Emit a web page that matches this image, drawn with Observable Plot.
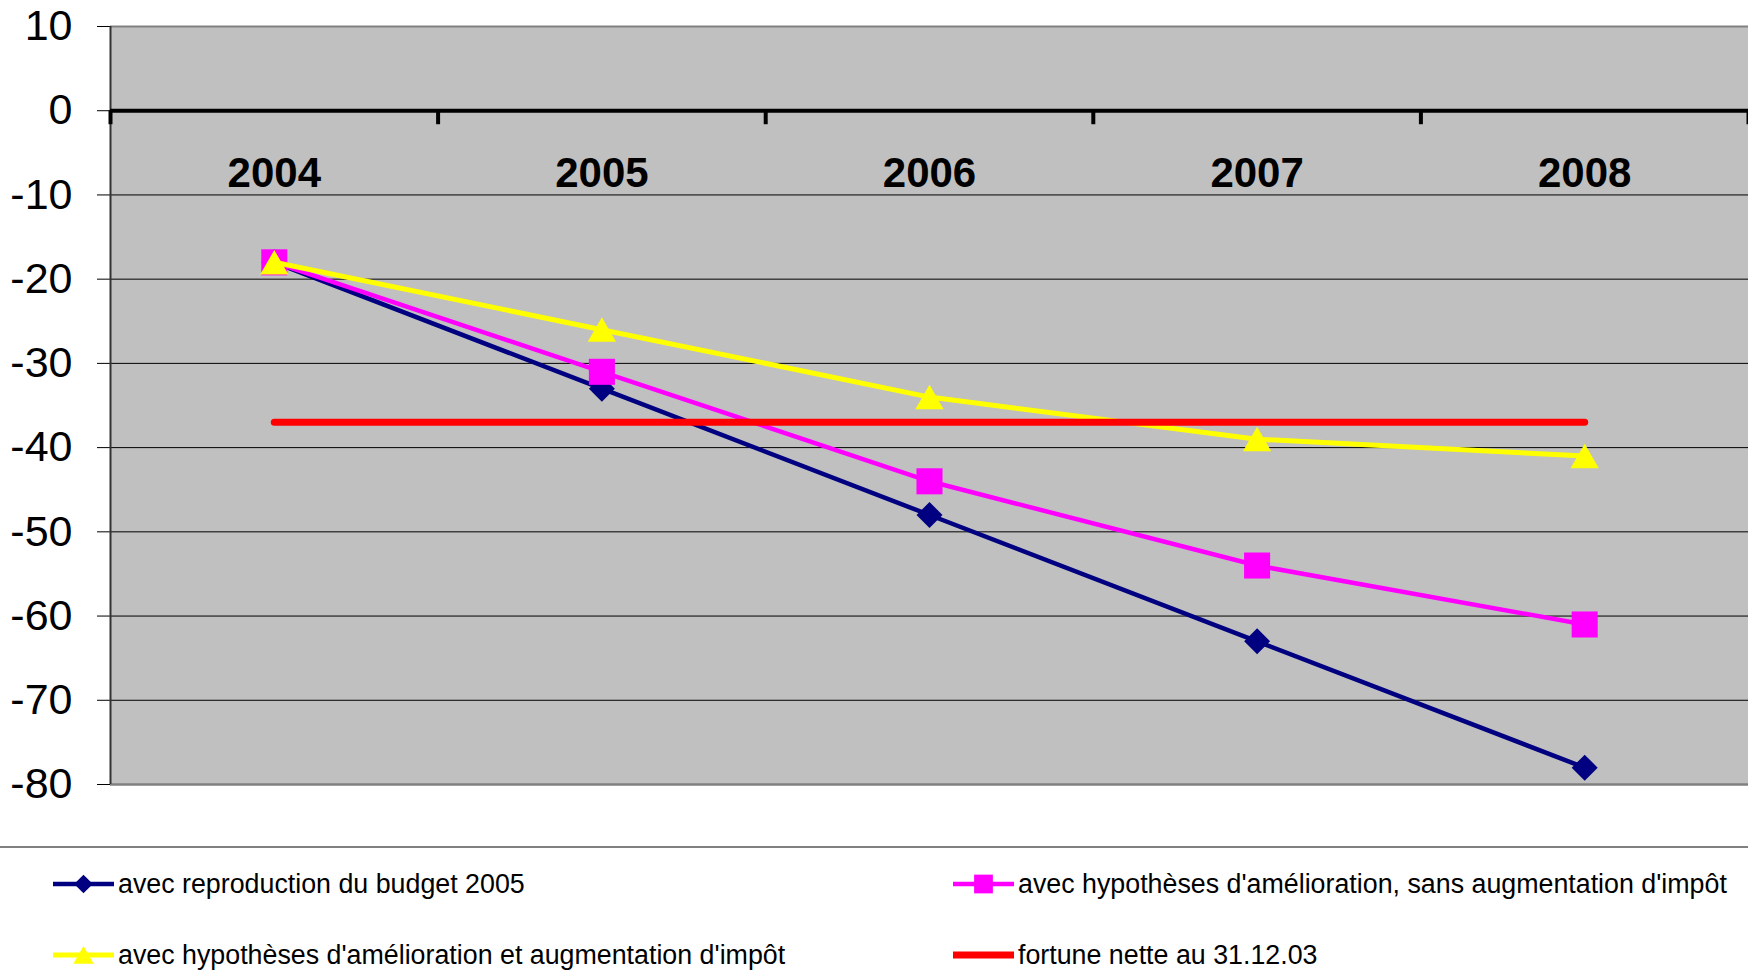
<!DOCTYPE html>
<html><head><meta charset="utf-8">
<script src="https://cdn.jsdelivr.net/npm/d3@7"></script>
<script src="https://cdn.jsdelivr.net/npm/@observablehq/plot@0.6"></script>
<style>
body{margin:0;background:#fff;font-family:"Liberation Sans",Arial,sans-serif;}
#chart svg{display:block;}
#legend{position:relative;height:124px;border-top:2px solid #808080;font-size:26.8px;color:#000;}
.item{position:absolute;display:flex;align-items:center;height:40px;white-space:nowrap;}
.item svg{display:block;margin-right:4px;}
</style></head><body>
<div id="chart"></div><div id="legend"></div>
<script>
// ---- data ----
const years = [2004, 2005, 2006, 2007, 2008];
const budget2005 = [-18, -33, -48, -63, -78];
const sansImpot = [-18, -31, -44, -54, -61];
const avecImpot = [-18, -26, -34, -39, -41];
const fortuneNette = [-37, -37, -37, -37, -37];
const seriesNames = [
  "avec reproduction du budget 2005",
  "avec hypothèses d'amélioration, sans augmentation d'impôt",
  "avec hypothèses d'amélioration et augmentation d'impôt",
  "fortune nette au 31.12.03"
];
const yTicks = [10, 0, -10, -20, -30, -40, -50, -60, -70, -80];
const yearLabels = years.map(String);

// ---- styles ----
const seriesValues = [budget2005, sansImpot, avecImpot, fortuneNette];
const seriesStyles = [
  {color: "#000080", symbol: "diamond2", d3sym: d3.symbolDiamond2, r: 11.7, width: 4.5, dy: 0},
  {color: "#FF00FF", symbol: "square", d3sym: d3.symbolSquare, r: 14.7, width: 4.5, dy: 0},
  {color: "#FFFF00", symbol: "triangle", d3sym: d3.symbolTriangle, r: 10.5, width: 5, dy: 4},
  {color: "#FF0000", symbol: null, width: 7}
];

const boundaries = years.map(y => y - 0.5).concat([years[years.length - 1] + 0.5]);
const font = '"Liberation Sans", Arial, sans-serif';

const seriesMarks = [];
seriesValues.forEach((vals, s) => {
  const st = seriesStyles[s];
  const rows = years.map((year, i) => ({year, value: vals[i]}));
  seriesMarks.push(Plot.line(rows, {x: "year", y: "value", stroke: st.color, strokeWidth: st.width}));
  if (st.symbol) {
    seriesMarks.push(Plot.dot(rows, {x: "year", y: "value", symbol: st.symbol, r: st.r, fill: st.color, stroke: "none", dy: st.dy}));
  }
});

const chart = Plot.plot({
  width: 1748,
  height: 846,
  marginTop: 26,
  marginBottom: 62,
  marginLeft: 110,
  marginRight: 0,
  x: {domain: [boundaries[0], boundaries[boundaries.length - 1]], axis: null},
  y: {domain: [yTicks[yTicks.length - 1], yTicks[0]], axis: null},
  style: {fontFamily: font, fontSize: "43px", background: "transparent", overflow: "visible", color: "#000"},
  marks: [
    Plot.frame({fill: "#C0C0C0", stroke: "none"}),
    Plot.ruleY(yTicks, {stroke: "#000", strokeWidth: 1}),
    Plot.ruleY([yTicks[0]], {stroke: "#808080", strokeWidth: 2}),
    Plot.ruleY([yTicks[yTicks.length - 1]], {stroke: "#808080", strokeWidth: 2.5}),
    Plot.axisY(yTicks, {tickSize: 13, tickPadding: 25, tickFormat: d => String(d), fontSize: 43, label: null}),
    Plot.ruleX([boundaries[0]], {stroke: "#333", strokeWidth: 2}),
    Plot.ruleY([0], {stroke: "#000", strokeWidth: 4}),
    Plot.ruleX(boundaries, {x: d => d, y1: 0, y2: 0, insetBottom: -14, stroke: "#000", strokeWidth: 4}),
    Plot.text(years, {x: d => d, y: 0, dy: 63, text: (d, i) => yearLabels[i], fontSize: 42, fontWeight: "bold", fill: "#000"}),
    ...seriesMarks
  ]
});
document.getElementById("chart").appendChild(chart);

// ---- legend ----
const legend = document.getElementById("legend");
const colLeft = [53, 953];
const rowTop = [16, 87];
seriesNames.forEach((name, s) => {
  const st = seriesStyles[s];
  const item = document.createElement("div");
  item.className = "item";
  item.style.left = colLeft[s % 2] + "px";
  item.style.top = rowTop[Math.floor(s / 2)] + "px";
  const ns = "http://www.w3.org/2000/svg";
  const svg = document.createElementNS(ns, "svg");
  svg.setAttribute("width", 61); svg.setAttribute("height", 40);
  const line = document.createElementNS(ns, "line");
  line.setAttribute("x1", 0); line.setAttribute("x2", 61);
  line.setAttribute("y1", 20); line.setAttribute("y2", 20);
  line.setAttribute("stroke", st.color); line.setAttribute("stroke-width", st.width);
  svg.appendChild(line);
  if (st.d3sym) {
    const p = document.createElementNS(ns, "path");
    const rr = st.r * 0.72;
    p.setAttribute("d", d3.symbol(st.d3sym, Math.PI * rr * rr)());
    p.setAttribute("transform", `translate(30.5,${20 + st.dy * 0.72})`);
    p.setAttribute("fill", st.color);
    svg.appendChild(p);
  }
  item.appendChild(svg);
  const span = document.createElement("span");
  span.textContent = name;
  item.appendChild(span);
  legend.appendChild(item);
});
</script>
</body></html>
